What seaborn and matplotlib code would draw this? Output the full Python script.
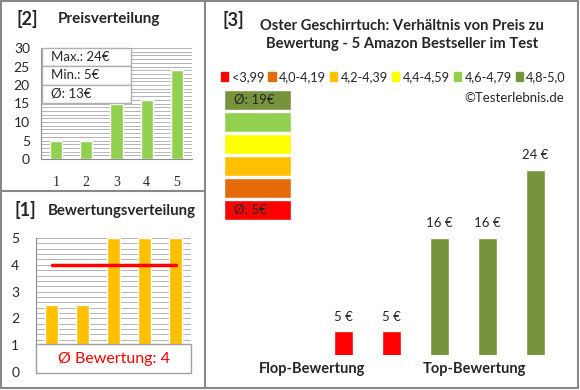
import numpy as np
import matplotlib
matplotlib.use("Agg")
import matplotlib.pyplot as plt
from matplotlib.patches import Rectangle, Patch
from matplotlib.lines import Line2D
import seaborn as sns

# data
price_ids = ["1", "2", "3", "4", "5"]
price_values = [5, 5, 15, 16, 24]
rating_values = [2.5, 2.5, 5, 5, 5]
test_prices = [5, 5, 16, 16, 24]
test_ratings = [2.5, 2.5, 5, 5, 5]
legend_labels = ["<3,99", "4,0-4,19", "4,2-4,39", "4,4-4,59", "4,6-4,79", "4,8-5,0"]
legend_colors = ["#FF0000", "#E46C0A", "#FFC000", "#FFFF00", "#92D050", "#77933C"]
rating_bins = [3.995, 4.195, 4.395, 4.595, 4.795]

sns.set_style("white")
plt.rcParams["font.family"] = ["Lato", "DejaVu Sans"]

W, H = 580, 390
fig = plt.figure(figsize=(5.8, 3.9), dpi=100)


def box(l, t, r, b):
    return [l / W, 1 - b / H, (r - l) / W, (b - t) / H]


grid_col = "#b4b4b4"
axis_col = "#8c8c8c"

# [2] Preisverteilung
ax1 = fig.add_axes(box(41, 48, 192, 159))
sns.barplot(x=price_ids, y=price_values, color="#92D050", width=0.4,
            saturation=1, ax=ax1, zorder=3)
ax1.set_ylim(0, 30)
ax1.set_xlim(-0.5, 4.5)
ax1.set_yticks(range(0, 31, 5))
ax1.set_yticks(range(0, 31), minor=True)
ax1.grid(axis="y", which="both", color=grid_col, lw=0.7)
ax1.set_axisbelow(True)
for s in ["top", "right"]:
    ax1.spines[s].set_visible(False)
ax1.spines["left"].set_color(axis_col)
ax1.spines["bottom"].set_color(axis_col)
ax1.tick_params(axis="y", which="both", length=0, pad=8, labelsize=10)
ax1.tick_params(axis="x", length=0, pad=12, labelsize=10)
for lab in ax1.get_xticklabels():
    lab.set_family("Liberation Serif")
ax1.set_xlabel("")
ax1.set_ylabel("")

stats = [f"Max.: {max(price_values)}€", f"Min.: {min(price_values)}€",
         f"Ø: {round(np.mean(price_values))}€"]
tbl = ax1.table(cellText=[[s] for s in stats], cellLoc="left",
                bbox=[0.007, 0.505, 0.59, 0.495])
tbl.auto_set_font_size(False)
tbl.set_zorder(5)
for cell in tbl.get_celld().values():
    cell.set_edgecolor("#b0b0b0")
    cell.set_facecolor("white")
    cell.get_text().set_fontsize(9.5)

# [1] Bewertungsverteilung
ax2 = fig.add_axes(box(36, 238, 191, 372))
sns.barplot(x=price_ids, y=rating_values, color="#FFC000", width=0.42,
            saturation=1, ax=ax2, zorder=3)
ax2.set_ylim(0, 5)
ax2.set_xlim(-0.5, 4.5)
ax2.set_yticks(range(6))
ax2.set_yticks(np.arange(0, 5.01, 0.2), minor=True)
ax2.grid(axis="y", which="both", color=grid_col, lw=0.7)
ax2.set_axisbelow(True)
for s in ["top", "right", "bottom"]:
    ax2.spines[s].set_visible(False)
ax2.spines["left"].set_color(axis_col)
ax2.tick_params(axis="y", which="major", length=5, color=axis_col, pad=7, labelsize=10)
ax2.tick_params(axis="y", which="minor", length=0)
ax2.tick_params(axis="x", length=0, labelbottom=False)
ax2.set_xlabel("")
ax2.set_ylabel("")
avg_rating = np.mean(rating_values)
ax2.plot([0, len(rating_values) - 1], [avg_rating, avg_rating], color="red",
         lw=2.5, zorder=4)
ax2.add_patch(Rectangle((0, -0.04), 1, 1.08, transform=ax2.get_yaxis_transform(),
                        fc="white", ec="#a0a0a0", lw=1, clip_on=False, zorder=5))
ax2.text(0.5, 0.5, f"Ø Bewertung: {avg_rating:g}", transform=ax2.get_yaxis_transform(),
         ha="center", va="center", color="red", fontsize=11.5, zorder=6)

# [3] main chart
idx = np.digitize(test_ratings, rating_bins)
bar_colors = [legend_colors[i] for i in idx]
prod = list(range(len(test_prices)))
ax3 = fig.add_axes(box(215, 60, 570, 355))
sns.barplot(x=prod, y=test_prices, hue=prod, palette=bar_colors, width=0.4,
            saturation=1, legend=False, ax=ax3)
ax3.set_xlim(-2.68, 4.72)
ax3.set_ylim(2.2, 36.9)
ax3.axis("off")
for c in ax3.containers:
    ax3.bar_label(c, fmt="{:.0f} €", padding=6, fontsize=9.5)
ax3.text(-0.66, -0.047, "Flop-Bewertung", transform=ax3.get_xaxis_transform(),
         ha="center", va="center", fontsize=10.5, fontweight="bold")
ax3.text(2.72, -0.047, "Top-Bewertung", transform=ax3.get_xaxis_transform(),
         ha="center", va="center", fontsize=10.5, fontweight="bold")

# colour scale stack
ax4 = fig.add_axes(box(224, 89, 291, 221))
ax4.barh(range(len(legend_colors)), [1] * len(legend_colors), height=0.9,
         color=legend_colors)
ax4.set_ylim(-0.5, len(legend_colors) - 0.5)
ax4.set_xlim(0, 1)
ax4.axis("off")
prices = np.array(test_prices)
top_avg = round(prices[idx == len(legend_colors) - 1].mean())
flop_avg = round(prices[idx == 0].mean())
ax4.text(0.15, len(legend_colors) - 1, f"Ø: {top_avg}€", va="center", fontsize=9.5)
ax4.text(0.15, 0, f"Ø: {flop_avg}€", va="center", fontsize=9.5)

handles = [Patch(color=c, label=l) for c, l in zip(legend_colors, legend_labels)]
fig.legend(handles=handles, ncol=6, loc="center right",
           bbox_to_anchor=(566 / W, 1 - 77 / H), frameon=False,
           fontsize=9.2, handlelength=0.6, handleheight=0.6, handletextpad=0.25,
           columnspacing=0.3, borderpad=0, borderaxespad=0)

# titles
fig.text(16 / W, 1 - 19 / H, "[2]", fontsize=13, fontweight="bold", va="center")
fig.text(58 / W, 1 - 19 / H, "Preisverteilung", fontsize=11, fontweight="bold", va="center")
fig.text(14 / W, 1 - 210 / H, "[1]", fontsize=13, fontweight="bold", va="center")
fig.text(48 / W, 1 - 211 / H, "Bewertungsverteilung", fontsize=10.8, fontweight="bold", va="center")
fig.text(223 / W, 1 - 20 / H, "[3]", fontsize=13, fontweight="bold", va="center")
fig.text(402 / W, 1 - 35 / H,
         "Oster Geschirrtuch: Verhältnis von Preis zu\nBewertung - 5 Amazon Bestseller im Test",
         fontsize=10.6, fontweight="bold", ha="center", va="center", linespacing=1.45)
fig.text(564 / W, 1 - 98 / H, "©Testerlebnis.de", fontsize=9.5, ha="right", va="center")

# panel borders
bc = "#888888"
fig.add_artist(Rectangle((1 / W, 1 - 388 / H), 577 / W, 387 / H, fill=False,
                         ec=bc, lw=1.5, transform=fig.transFigure))
fig.add_artist(Line2D([205 / W, 205 / W], [1 - 1 / H, 1 - 388 / H], color=bc, lw=1.5,
                      transform=fig.transFigure))
fig.add_artist(Line2D([1 / W, 205 / W], [1 - 191 / H, 1 - 191 / H], color=bc, lw=1.5,
                      transform=fig.transFigure))

fig.savefig("out.png", dpi=100)
